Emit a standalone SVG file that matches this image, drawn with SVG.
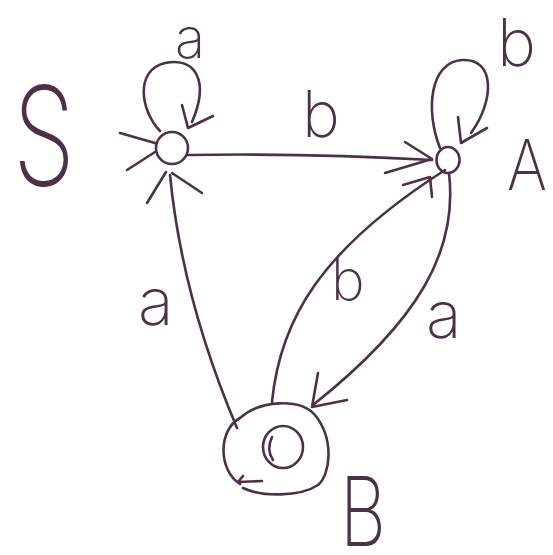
<svg xmlns="http://www.w3.org/2000/svg" width="553" height="555" viewBox="0 0 553 555">
<style>
.s{fill:none;stroke:#4e3049;stroke-width:2.6;stroke-linecap:round;stroke-linejoin:round}
.t{fill:#4e3049;font-family:"Inter","Liberation Sans",sans-serif;font-weight:200}
</style>
<rect width="553" height="555" fill="#ffffff"/>
<g id="connectors" class="s">
<path id="S-loop" d="M160 131 C140 110,135 70,165 63 C195 57,210 80,192 122"/>
<path d="M182 105 L188 128 L213 116"/>
<path id="S-A" d="M188 155 Q310 153 432 160"/>
<path d="M405 142 L432 159 L385 173"/>
<path id="A-loop" d="M440 148 C425 110,430 62,462 60 C495 58,495 100,471 133"/>
<path d="M458 117 L461 143 L487 128"/>
<path id="B-A" d="M272 402 C280 320,320 250,445 170"/>
<path d="M403 185 L430 177 L432 197"/>
<path id="A-B" d="M449 173 C458 250,420 320,313 405"/>
<path d="M318 373 L312 407 L347 400"/>
<path id="B-S" d="M237 428 Q182 298 170 175"/>
<path d="M147 203 L166 172 M202 193 L172 173"/>
<path d="M120 133 L155 143 M127 170 L155 152"/>
<path id="B-loop" d="M240 484 C218 470,218 430,240 418 C260 400,300 398,315 415 C335 440,330 475,318 485 C300 497,262 497,243 488"/>
<path d="M243 476 L238 482 L262 481"/>
</g>
<g id="S" class="s"><circle cx="172" cy="148" r="16"/></g>
<g id="A" class="s"><ellipse cx="448" cy="160" rx="11.5" ry="13"/></g>
<g id="B" class="s"><ellipse cx="283" cy="447" rx="20" ry="21"/><path d="M272 437 Q266 450 273 460"/></g>
<g id="labels" class="t">
<text x="175" y="58" font-size="56">a</text>
<text x="497" y="66" font-size="66">b</text>
<text x="302" y="137" font-size="64">b</text>
<text x="138" y="325" font-size="66">a</text>
<text x="331" y="300" font-size="57">b</text>
<text x="426" y="338" font-size="66">a</text>
<text x="13" y="185" font-size="137" textLength="62" lengthAdjust="spacingAndGlyphs">S</text>
<text x="507" y="190" font-size="70" textLength="40" lengthAdjust="spacingAndGlyphs">A</text>
<text x="340" y="546" font-size="96" textLength="46" lengthAdjust="spacingAndGlyphs">B</text>
</g>
</svg>
